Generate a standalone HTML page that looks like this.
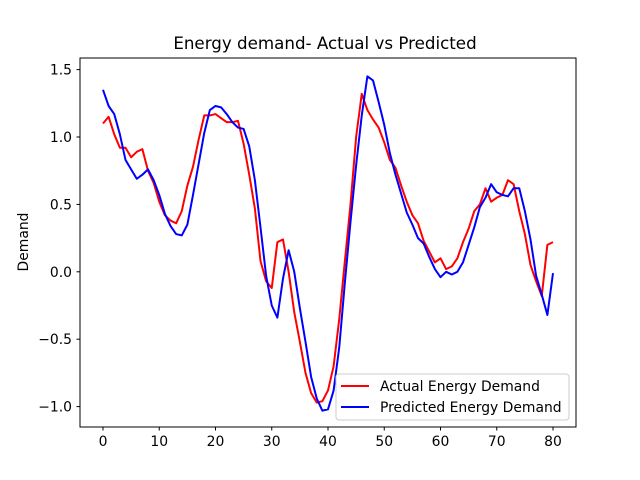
<!DOCTYPE html>
<html><head><meta charset="utf-8"><style>
body{margin:0;background:#fff;}
svg{display:block;font-family:"DejaVu Sans","Liberation Sans",sans-serif;}
</style></head><body>
<svg id="chart" width="640" height="480">
<rect width="640" height="480" fill="#fff"/>
<text x="325" y="49" font-size="16.7" text-anchor="middle">Energy demand- Actual vs Predicted</text>
<g id="plot"></g>
<rect x="80" y="58" width="496" height="369" fill="none" stroke="#000" stroke-width="1"/>
<text transform="translate(28,242) rotate(-90)" font-size="13.9" text-anchor="middle">Demand</text>
<g>
<rect x="336" y="374" width="233" height="46" rx="3" fill="#fff" fill-opacity="0.8" stroke="#ccc"/>
<line x1="341" y1="386" x2="369" y2="386" stroke="red" stroke-width="2"/>
<text x="380" y="391" font-size="13.9">Actual Energy Demand</text>
<line x1="341" y1="407" x2="369" y2="407" stroke="blue" stroke-width="2"/>
<text x="380" y="412" font-size="13.9">Predicted Energy Demand</text>
</g>
</svg>
<script>
const actual=[1.10,1.15,1.02,0.92,0.92,0.85,0.89,0.91,0.75,0.66,0.52,0.42,0.38,0.36,0.45,0.64,0.78,0.98,1.16,1.16,1.17,1.14,1.11,1.11,1.12,0.95,0.72,0.47,0.08,-0.07,-0.12,0.22,0.24,0.0,-0.3,-0.52,-0.75,-0.9,-0.97,-0.96,-0.88,-0.7,-0.35,0.08,0.5,1.0,1.32,1.2,1.13,1.07,0.96,0.83,0.77,0.64,0.52,0.42,0.36,0.23,0.15,0.07,0.1,0.02,0.04,0.1,0.22,0.32,0.45,0.5,0.62,0.52,0.55,0.57,0.68,0.65,0.45,0.28,0.05,-0.07,-0.18,0.2,0.22];
const predicted=[1.35,1.23,1.17,1.02,0.83,0.76,0.69,0.72,0.76,0.68,0.57,0.43,0.34,0.28,0.27,0.35,0.57,0.8,1.03,1.2,1.23,1.22,1.17,1.11,1.07,1.06,0.93,0.68,0.33,-0.03,-0.25,-0.34,-0.05,0.16,0.0,-0.27,-0.52,-0.78,-0.94,-1.03,-1.02,-0.88,-0.56,-0.08,0.37,0.79,1.16,1.45,1.42,1.26,1.09,0.88,0.72,0.58,0.44,0.35,0.25,0.21,0.11,0.02,-0.04,0.0,-0.02,0.0,0.07,0.2,0.33,0.48,0.55,0.65,0.59,0.57,0.56,0.62,0.62,0.45,0.24,-0.03,-0.17,-0.32,-0.01];
const xTicks=[0,10,20,30,40,50,60,70,80];
const yTicks=[-1.0,-0.5,0.0,0.5,1.0,1.5];
const yTickLabels=["\u22121.0","\u22120.5","0.0","0.5","1.0","1.5"];
const NS="http://www.w3.org/2000/svg";
function xs(v){return 103+v*5.625;}
function ys(v){return 271.8-v*134.8;}
const g=document.getElementById('plot');
function mk(t,a){const e=document.createElementNS(NS,t);for(const k in a)e.setAttribute(k,a[k]);return e;}
xTicks.forEach(t=>{
 const l=mk('line',{x1:xs(t),x2:xs(t),y1:427,y2:430.5,stroke:'#000'});
 
 
 g.appendChild(l);
 const tx=mk('text',{x:xs(t),y:446,'font-size':13.9,'text-anchor':'middle'});
 
 
 tx.textContent=t;g.appendChild(tx);
});
yTicks.forEach((t,i)=>{
 const l=mk('line',{x1:76.5,x2:80,y1:ys(t),y2:ys(t),stroke:'#000'});
 
 
 g.appendChild(l);
 const tx=mk('text',{x:72,y:ys(t)+5,'font-size':13.9,'text-anchor':'end'});
 
 
 tx.textContent=yTickLabels[i];g.appendChild(tx);
});
function line(data,color,name){
 const p=mk('polyline',{points:data.map((v,i)=>xs(i)+','+ys(v)).join(' '),fill:'none',stroke:color,'stroke-width':2,'stroke-linejoin':'round'});
 
 
 g.appendChild(p);
}
line(actual,'red','actual-series-line');
line(predicted,'blue','predicted-series-line');
</script>
</body></html>
